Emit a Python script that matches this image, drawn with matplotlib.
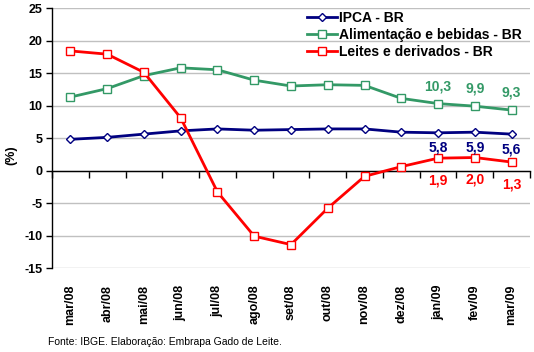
import matplotlib.pyplot as plt
import numpy as np

plt.rcParams['font.family'] = ['Liberation Sans', 'DejaVu Sans']

# data
meses = ['mar/08', 'abr/08', 'mai/08', 'jun/08', 'jul/08', 'ago/08', 'set/08',
         'out/08', 'nov/08', 'dez/08', 'jan/09', 'fev/09', 'mar/09']
ipca = [4.8, 5.1, 5.6, 6.1, 6.4, 6.2, 6.3, 6.4, 6.4, 5.9, 5.8, 5.9, 5.6]
alimentacao = [11.3, 12.6, 14.6, 15.8, 15.5, 13.9, 13.0, 13.2, 13.1, 11.1, 10.3, 9.9, 9.3]
leites = [18.4, 17.9, 15.1, 8.1, -3.3, -10.1, -11.4, -5.8, -0.9, 0.6, 1.9, 2.0, 1.3]
yticks = [-15, -10, -5, 0, 5, 10, 15, 20, 25]

azul = '#000080'
verde = '#339966'
vermelho = '#FF0000'

fig = plt.figure(figsize=(5.34, 3.52), dpi=100)
ax = fig.add_axes([0.0974, 0.2386, 0.895, 0.7386])

x = np.arange(len(meses))
ax.plot(x, ipca, color=azul, lw=2, marker='D', ms=4.5, mfc='white', mec=azul,
        mew=1, label='IPCA - BR', zorder=3)
ax.plot(x, alimentacao, color=verde, lw=2, marker='s', ms=5.5, mfc='white', mec=verde,
        mew=1, label='Alimentação e bebidas - BR', zorder=3)
ax.plot(x, leites, color=vermelho, lw=2, marker='s', ms=6, mfc='white', mec=vermelho,
        mew=1, label='Leites e derivados - BR', zorder=3)

# value labels for the last three months
for i in range(10, 13):
    ax.text(x[i], alimentacao[i] + 2.7, f'{alimentacao[i]:.1f}'.replace('.', ','),
            color=verde, fontsize=10, fontweight='bold', ha='center', va='center')
    ax.text(x[i], ipca[i] - 2.3, f'{ipca[i]:.1f}'.replace('.', ','),
            color=azul, fontsize=10, fontweight='bold', ha='center', va='center')
    ax.text(x[i], leites[i] - 3.4, f'{leites[i]:.1f}'.replace('.', ','),
            color=vermelho, fontsize=10, fontweight='bold', ha='center', va='center')

ax.set_xlim(-0.5, len(meses) - 0.5)
ax.set_ylim(-15, 25)
ax.set_yticks(yticks)
ax.set_yticklabels([str(v) for v in yticks], fontsize=9, fontweight='bold')
ax.grid(axis='y', color='#c0c0c0', lw=1)
ax.set_axisbelow(True)
ax.tick_params(axis='y', length=4, width=1, direction='out', pad=3)

for s in ['top', 'right']:
    ax.spines[s].set_visible(False)
ax.spines['left'].set_linewidth(1)
ax.spines['bottom'].set_position(('data', 0))
ax.spines['bottom'].set_linewidth(1)
ax.set_xticks(np.arange(len(meses) + 1) - 0.5)
ax.set_xticklabels([])
ax.tick_params(axis='x', length=5, width=1, direction='out')

sec = ax.secondary_xaxis('bottom')
sec.spines['bottom'].set_visible(False)
sec.set_xticks(x)
sec.set_xticklabels(meses, rotation=90, fontsize=9, fontweight='bold')
sec.tick_params(length=0, pad=12)

ax.legend(loc='upper right', bbox_to_anchor=(1.0, 1.02), frameon=False,
          prop={'size': 10, 'weight': 'bold'}, handlelength=2.2,
          handletextpad=0.1, labelspacing=0.2, borderaxespad=0.2)

fig.text(0.022, 0.56, '(%)', rotation=90, fontsize=9, fontweight='bold',
         ha='center', va='center')
fig.text(0.09, 0.028, 'Fonte: IBGE. Elaboração: Embrapa Gado de Leite.',
         fontsize=7.5, ha='left', va='center')

fig.savefig('out.png', dpi=100)
